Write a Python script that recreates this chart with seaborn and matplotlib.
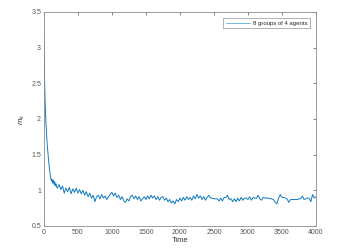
import numpy as np
import pandas as pd
import matplotlib
matplotlib.use("Agg")
import matplotlib.pyplot as plt
from matplotlib.lines import Line2D
import seaborn as sns

# early transient, sampled every 10 time steps
early_time = [0, 10, 20, 30, 40, 50, 60, 70, 80, 90,
              100, 110, 120, 130, 140, 150, 160, 170, 180, 190]
early_mk = [3.15, 2.60, 2.20, 1.95, 1.78, 1.63, 1.52, 1.42, 1.32, 1.24,
            1.18, 1.13, 1.16, 1.10, 1.14, 1.08, 1.12, 1.06, 1.09, 1.04]

# steady part, one value every 25 time steps from 200 to 4000
steady_mk = [
    1.03, 1.08, 1.01, 1.06, 0.96, 1.03, 0.98, 1.04,
    0.95, 1.02, 0.97, 1.03, 0.96, 1.01, 0.95, 1.00,
    0.93, 0.98, 0.91, 0.96, 0.89, 0.93, 0.84, 0.91,
    0.93, 0.88, 0.94, 0.89, 0.92, 0.87, 0.91, 0.94,
    0.97, 0.92, 0.96, 0.90, 0.93, 0.87, 0.91, 0.85,
    0.83, 0.88, 0.85, 0.91, 0.93, 0.88, 0.92, 0.87,
    0.91, 0.85, 0.88, 0.91, 0.87, 0.92, 0.88, 0.93,
    0.89, 0.92, 0.87, 0.91, 0.86, 0.90, 0.91, 0.86,
    0.89, 0.84, 0.87, 0.82, 0.85, 0.81, 0.87, 0.84,
    0.89, 0.85, 0.90, 0.86, 0.91, 0.87, 0.90, 0.86,
    0.92, 0.88, 0.94, 0.89, 0.92, 0.87, 0.91, 0.86,
    0.90, 0.93, 0.89, 0.89, 0.88, 0.88, 0.88, 0.85,
    0.89, 0.85, 0.90, 0.90, 0.93, 0.87, 0.88, 0.84,
    0.88, 0.84, 0.89, 0.85, 0.90, 0.86, 0.89, 0.89,
    0.87, 0.91, 0.86, 0.90, 0.89, 0.89, 0.93, 0.88,
    0.86, 0.90, 0.89, 0.89, 0.89, 0.88, 0.88, 0.87,
    0.83, 0.81, 0.89, 0.94, 0.90, 0.90, 0.89, 0.88,
    0.83, 0.87, 0.87, 0.87, 0.87, 0.87, 0.88, 0.88,
    0.92, 0.87, 0.88, 0.89, 0.89, 0.84, 0.94, 0.89,
    0.91,
]
steady_time = list(range(200, 4001, 25))

label = "8 groups of 4 agents"

df = pd.DataFrame({
    "Time": early_time + steady_time,
    "mk": early_mk + steady_mk,
})

sns.set_style("white")
plt.rcParams["font.family"] = ["Liberation Sans", "DejaVu Sans"]
plt.rcParams["mathtext.fontset"] = "custom"
plt.rcParams["mathtext.it"] = "Liberation Sans:italic"
plt.rcParams["mathtext.rm"] = "Liberation Sans"

fig = plt.figure(figsize=(3.48, 2.48), dpi=100)
ax = fig.add_axes([0.126, 0.089, 0.782, 0.863])

sns.lineplot(data=df, x="Time", y="mk", ax=ax, color="#0072BD",
             linewidth=0.65, legend=False)

ax.set_xlim(0, 4000)
ax.set_ylim(0.5, 3.5)
ax.set_xticks(range(0, 4001, 500))
ax.set_yticks([0.5, 1, 1.5, 2, 2.5, 3, 3.5])
ax.set_yticklabels(["0.5", "1", "1.5", "2", "2.5", "3", "3.5"])
ax.tick_params(direction="in", length=2.5, width=0.5, labelsize=5,
               colors="#555555", top=True, right=True, pad=2)
for s in ax.spines.values():
    s.set_color("#8a8a8a")
    s.set_linewidth(0.6)

ax.set_xlabel("Time", fontsize=5.5, color="#333333", labelpad=1)
ax.set_ylabel("$m_k$", fontsize=5.5, color="#333333", labelpad=3)

handle = Line2D([], [], color="#5aaee0", linewidth=0.6)
leg = ax.legend(handles=[handle], labels=[label], loc="upper right",
                fontsize=4.3, frameon=True, fancybox=False,
                handlelength=4, borderpad=0.4, handletextpad=0.6,
                bbox_to_anchor=(0.99, 0.985))
leg.get_frame().set_edgecolor("#555555")
leg.get_frame().set_linewidth(0.4)

fig.savefig("out.png", dpi=100)
